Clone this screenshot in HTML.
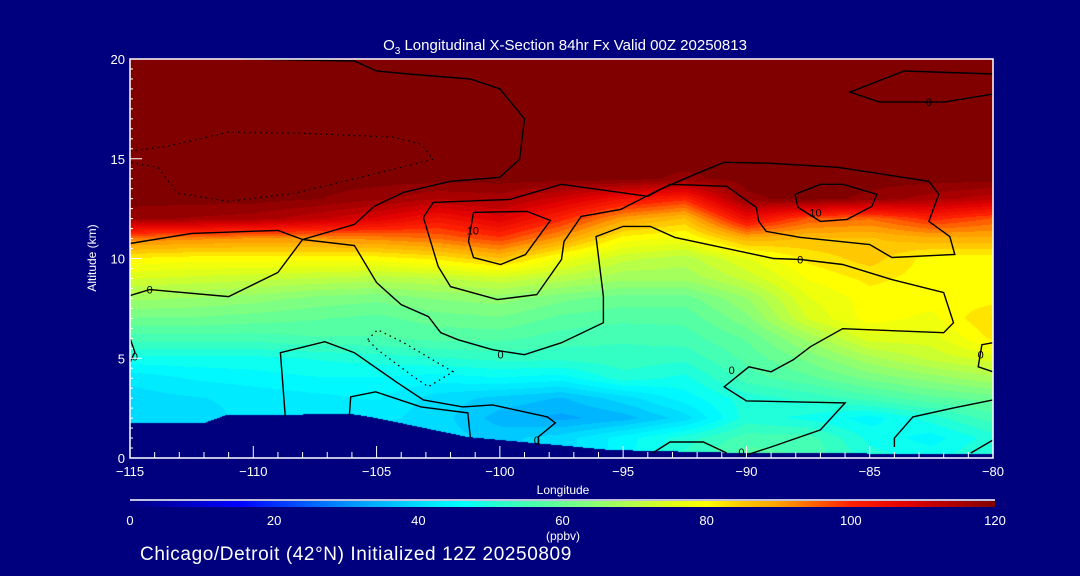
<!DOCTYPE html>
<html><head><meta charset="utf-8"><style>
html,body{margin:0;padding:0;background:#00007f;width:1080px;height:576px;overflow:hidden}
#wrap{position:relative;width:1080px;height:576px}
canvas{position:absolute;left:130px;top:59px}
svg{position:absolute;left:0;top:0}
text{font-family:"Liberation Sans",sans-serif;fill:#fff}
</style></head><body>
<div id="wrap">
<canvas id="cv" width="863" height="399"></canvas>
<svg id="sv" width="1080" height="576"></svg>
</div>
<script>
const lons=[-115,-112.5,-110,-107.5,-105,-102.5,-100,-97.5,-95,-92.5,-90,-87.5,-85,-82.5,-80];
const alts=[0,1,2,3,4,5,6,7,8,9,10,11,12,13,14];
const o3row0=[40,40,40,40,40,40,38,40,45,52,58,56,50,48,52];
const o3row1=[40,40,40,40,40,40,38,40,45,50,55,55,48,45,50];
const o3row2=[40,40,42,42,42,40,35,33,35,40,50,48,45,50,55];
const o3row3=[40,41,42,43,44,40,38,36,40,45,50,52,55,58,60];
const o3row4=[42,44,45,46,46,45,46,45,50,48,55,58,62,65,68];
const o3row5=[48,48,48,49,50,51,52,52,53,52,57,62,68,72,75];
const o3row6=[55,55,55,56,56,57,57,55,54,55,59,67,75,75,82];
const o3row7=[61,61,60,59,58,60,61,58,57,57,63,74,80,78,84];
const o3row8=[67,66,65,63,62,64,65,62,60,60,66,76,80,80,80];
const o3row9=[74,73,72,71,70,71,73,70,67,67,72,79,82,80,80];
const o3row10=[81,80,80,80,80,82,86,78,72,70,76,82,85,80,80];
const o3row11=[93,92,91,91,92,94,98,90,80,78,88,86,86,88,88];
const o3row12=[117,116,115,112,108,103,108,100,90,86,105,96,94,100,96];
const o3row13=[120,120,120,119,117,114,115,110,104,100,118,120,118,115,112];
const o3row14=[120,120,120,120,120,120,120,120,120,118,120,120,120,120,120];
const terrLon=[-115,-112,-111.1,-106,-105,-101.3,-97.7,-95.5,-90,-80];
const terrAlt=[1.75,1.75,2.15,2.2,2.0,1.05,0.65,0.4,0.25,0.2];
const cbTicks=[0,20,40,60,80,100,120];
const xTicks=[-115,-110,-105,-100,-95,-90,-85,-80];
const yTicks=[0,5,10,15,20];
const cStops=[0,15,30,40,46,52,58,64,70,75,80,85,90,95,100,108,114,120];
const cCols=['#00007f','#0000ff','#0090ff','#00dcff','#00ffff','#30ffc8','#58ffa0','#88ff78','#b8ff48','#e0ff18','#ffff00','#ffc800','#ffa000','#ff6000','#ff2000','#e00000','#b00000','#800000'];
const cA=[[-110.4,20],[-105.9,19.9],[-105.0,19.4],[-103.7,19.25],[-101.2,19.0],[-100.0,18.5],[-99.0,17.0],[-99.2,14.97],[-100.0,14.07],[-102.0,13.87],[-103.9,13.32],[-105.1,12.61],[-105.9,11.71],[-108.0,10.95],[-109.0,11.41],[-112.5,11.26],[-115,10.75]];
const cB=[[-115,8.14],[-114.2,8.44],[-111.0,8.09],[-109.0,9.3],[-108.0,10.95],[-105.9,10.65],[-105.0,8.79],[-104.0,7.69],[-102.9,7.09],[-102.4,6.28],[-101.7,5.93],[-100.3,5.43],[-99.0,5.18],[-97.5,5.78],[-95.8,6.78],[-95.8,8.09],[-96.1,11.1],[-95.0,11.61],[-93.9,11.61],[-92.9,11.06],[-88.9,10.0],[-87.8,9.95],[-86.1,9.7],[-84.1,8.94],[-82.0,8.29],[-81.6,6.78],[-82.0,6.28],[-86.1,6.48],[-87.4,5.58],[-88.1,4.92],[-89.0,4.32],[-89.9,4.57],[-90.9,3.57],[-90.0,2.86],[-86.0,2.76],[-87.0,1.41],[-89.0,0.55],[-90.0,0.15]];
const cC=[[-103.1,12.06],[-102.5,9.6],[-102.0,8.59],[-100.1,7.94],[-98.5,8.19],[-97.5,9.95],[-97.4,10.85],[-96.7,12.11],[-95.1,12.46],[-93.5,13.47],[-91.9,14.32],[-90.9,14.82],[-89.0,14.77],[-86.3,14.57],[-82.6,13.87],[-82.2,13.22],[-82.6,11.86],[-81.75,11.1],[-81.55,10.2],[-84.1,10.05],[-85.0,10.7],[-87.8,11.06],[-89.2,11.36],[-89.5,11.86],[-89.6,12.56],[-90.8,13.62],[-93.1,13.72],[-94.0,13.12],[-97.5,13.72],[-99.6,12.96],[-102.7,12.81],[-103.1,12.06]];
const cD=[[-101.07,12.31],[-98.9,12.36],[-97.95,11.91],[-98.96,10.2],[-99.97,9.7],[-101.07,10.05],[-101.27,10.85],[-101.07,12.31]];
const cE=[[-88.03,13.22],[-87.0,13.72],[-86.08,13.72],[-84.71,13.22],[-84.91,12.61],[-85.92,11.96],[-87.0,11.86],[-87.91,12.56],[-88.03,13.22]];
const cF=[[-80,19.25],[-83.6,19.4],[-85.8,18.34],[-84.6,17.84],[-82.0,17.84],[-80,18.24]];
const cG=[[-108.7,2.06],[-108.9,5.28],[-107.1,5.83],[-105.9,5.28],[-104.15,3.77],[-103.1,2.91],[-101.5,2.56],[-100.3,2.66],[-98.07,2.06],[-97.75,1.76],[-98.44,1.06],[-98.44,0.65]];
const cH=[[-106.1,2.16],[-106.05,3.07],[-105.04,3.32],[-103.2,2.56],[-101.3,2.26],[-101.2,1.06]];
const cG2=[[-93.8,0.25],[-93.1,0.8],[-91.75,0.8],[-90.8,0.25]];
const cI=[[-84.0,0.55],[-84.0,1.0],[-83.25,2.06],[-81.6,2.51],[-80,2.91]];
const cJ=[[-80.9,0.25],[-80,0.9]];
const cK=[[-80,5.78],[-80.45,5.68],[-80.6,4.57],[-80,4.32]];
const cL0=[[-115,6.0],[-114.8,5.3],[-115,4.8]];
const dL=[[-115,15.38],[-113.46,15.63],[-111.0,16.33],[-108.07,16.28],[-104.31,16.08],[-103.2,15.73],[-102.7,14.97],[-103.5,14.72],[-105.64,14.07],[-108.36,13.27],[-111.0,12.86],[-113.06,13.27],[-113.87,14.57],[-115,14.82]];
const dM=[[-105.36,5.93],[-104.96,6.43],[-103.9,5.78],[-101.9,4.32],[-102.9,3.57],[-103.5,4.07],[-104.96,5.43],[-105.36,5.93]];
const labels=[[-114.2,8.44,'0'],[-99.97,5.18,'0'],[-87.82,9.95,'0'],[-101.1,11.4,'10'],[-87.2,12.3,'10'],[-82.6,17.84,'0'],[-90.2,0.3,'0'],[-98.5,0.9,'0'],[-90.6,4.4,'0'],[-80.5,5.2,'0'],[-114.8,5.1,'0']];

const PX0=130,PX1=993,PY0=458,PY1=59;
function X(l){return PX0+(l+115)/35*(PX1-PX0);}
function Y(a){return PY0-a/20*(PY0-PY1);}
const rows=[o3row0,o3row1,o3row2,o3row3,o3row4,o3row5,o3row6,o3row7,o3row8,o3row9,o3row10,o3row11,o3row12,o3row13,o3row14];
function hex(c){return [parseInt(c.slice(1,3),16),parseInt(c.slice(3,5),16),parseInt(c.slice(5,7),16)];}
const cRGB=cCols.map(hex);
function cmap(v){v=Math.max(0,Math.min(120,v));for(let i=1;i<cStops.length;i++){if(v<=cStops[i]){const t=(v-cStops[i-1])/(cStops[i]-cStops[i-1]);const a=cRGB[i-1],b=cRGB[i];return [a[0]+(b[0]-a[0])*t,a[1]+(b[1]-a[1])*t,a[2]+(b[2]-a[2])*t];}}return cRGB[cRGB.length-1];}
function interp1(xs,ys,x){if(x<=xs[0])return ys[0];for(let i=1;i<xs.length;i++){if(x<=xs[i]){const t=(x-xs[i-1])/(xs[i]-xs[i-1]);return ys[i-1]+(ys[i]-ys[i-1])*t;}}return ys[ys.length-1];}
function field(lon,alt){
  if(alt>=15)return 120;
  let ai=Math.min(Math.floor(alt),14),at=alt-ai;
  let li=(lon+115)/2.5;let l0=Math.min(Math.floor(li),13);let lt=li-l0;
  const r0=rows[ai];
  const v0=r0[l0]*(1-lt)+r0[l0+1]*lt;
  const v1=(ai<14?rows[ai+1][l0]*(1-lt)+rows[ai+1][l0+1]*lt:120);
  return v0*(1-at)+v1*at;
}
const cv=document.getElementById('cv'),ctx=cv.getContext('2d');
const img=ctx.createImageData(cv.width,cv.height);
for(let py=0;py<cv.height;py++){for(let px=0;px<cv.width;px++){
  const lon=-115+(px+0.5)/cv.width*35, alt=(cv.height-py-0.5)/cv.height*20;
  let c;
  if(alt<interp1(terrLon,terrAlt,lon))c=[0,0,127];
  else{let v=field(lon,alt);v=Math.round(v/2.5)*2.5;c=cmap(v);}
  const k=(py*cv.width+px)*4;img.data[k]=c[0];img.data[k+1]=c[1];img.data[k+2]=c[2];img.data[k+3]=255;}}
ctx.putImageData(img,0,0);

const NS='http://www.w3.org/2000/svg',sv=document.getElementById('sv');
function el(t,a,txt){const e=document.createElementNS(NS,t);for(const k in a)e.setAttribute(k,a[k]);if(txt!==undefined)e.textContent=txt;sv.appendChild(e);return e;}
function line(pts,dotted,name){const e=el('polyline',{points:pts.map(p=>X(p[0]).toFixed(1)+','+Y(p[1]).toFixed(1)).join(' '),fill:'none',stroke:'#000','stroke-width':dotted?1.3:1.4,'stroke-dasharray':dotted?'1.5,4':'none'});

}
[[cA,'contour-a'],[cB,'contour-b'],[cC,'contour-c'],[cD,'contour-d'],[cE,'contour-e'],[cF,'contour-f'],[cG,'contour-g'],[cH,'contour-h'],[cG2,'contour-g2'],[cI,'contour-i'],[cJ,'contour-j'],[cK,'contour-k'],[cL0,'contour-left']].forEach(d=>line(d[0],false,d[1]));
line(dL,true,'dotted-contour-upper');line(dM,true,'dotted-contour-lower');
labels.forEach(l=>{const t=el('text',{x:X(l[0]),y:Y(l[1])+4,'font-size':11,'text-anchor':'middle',style:'fill:#000'},l[2]);

});

const ax=el('path',{d:`M${PX0},${PY1}H${PX1}V${PY0}H${PX0}Z`,fill:'none',stroke:'#fff','stroke-width':1.5});


for(let l=-115;l<=-80;l++){const maj=(l%5===0);const t=el('line',{x1:X(l),x2:X(l),y1:PY0,y2:PY0-(maj?12:6),stroke:'#fff','stroke-width':1});

}
for(let a=0;a<=20;a+=0.5){const maj=(a%5===0);const t=el('line',{x1:PX0,x2:PX0+(maj?12:3),y1:Y(a),y2:Y(a),stroke:'#fff','stroke-width':1});

}
xTicks.forEach(v=>{const t=el('text',{x:X(v),y:476,'font-size':13,'text-anchor':'middle'},(v<0?'\u2212':'')+Math.abs(v));

});
yTicks.forEach(v=>{const t=el('text',{x:125,y:Y(v)+5,'font-size':13,'text-anchor':'end'},String(v));

});
let t1=el('text',{x:563,y:494,'font-size':12,'text-anchor':'middle'},'Longitude');


let t2=el('text',{x:0,y:0,'font-size':12,'text-anchor':'middle',transform:'translate(96,258) rotate(-90)'},'Altitude (km)');


let t3=el('text',{x:565,y:50,'font-size':15,'text-anchor':'middle'},'');
t3.innerHTML='O<tspan font-size="10" dy="4">3</tspan><tspan dy="-4"> Longitudinal X-Section 84hr  Fx Valid 00Z 20250813</tspan>';
t3.setAttribute('xml:space','preserve');



const defs=el('defs',{});const g=document.createElementNS(NS,'linearGradient');g.setAttribute('id','cbg');defs.appendChild(g);
cStops.forEach((s,i)=>{const st=document.createElementNS(NS,'stop');st.setAttribute('offset',(s/120*100)+'%');st.setAttribute('stop-color',cCols[i]);g.appendChild(st);});
const CB0=130,CB1=995;
const cbl=el('line',{x1:CB0,x2:CB1,y1:500,y2:500,stroke:'#fff','stroke-width':1.5});


const cb=el('rect',{x:CB0,y:501,width:CB1-CB0,height:6,fill:'url(#cbg)'});


cbTicks.forEach(v=>{const t=el('text',{x:CB0+v/120*(CB1-CB0),y:525,'font-size':13,'text-anchor':'middle'},String(v));

});
let t4=el('text',{x:563,y:540,'font-size':12,'text-anchor':'middle'},'(ppbv)');


let t5=el('text',{x:140,y:560,'font-size':19,'letter-spacing':'0.6'},'Chicago/Detroit (42\u00B0N) Initialized 12Z 20250809');


</script>
</body></html>
